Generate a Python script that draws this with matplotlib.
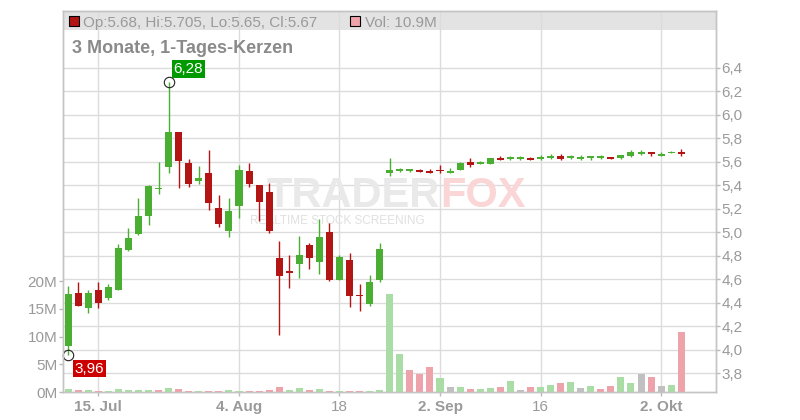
import matplotlib
matplotlib.use("Agg")
import matplotlib.pyplot as plt
from matplotlib.patches import Rectangle
from matplotlib.ticker import FuncFormatter
import numpy as np

plt.rcParams['font.family'] = ['Liberation Sans', 'DejaVu Sans']

# daily candles, 62 trading days (Jul 10 .. Oct 6)
opens = [4.035, 4.485, 4.358, 4.509, 4.443, 4.509, 4.849, 4.988, 5.141, 5.37,
         5.558, 5.853, 5.59, 5.434, 5.502, 5.207, 5.014, 5.227, 5.522, 5.403,
         5.343, 4.781, 4.67, 4.73, 4.892, 4.75, 5.003, 4.594, 4.764, 4.47,
         4.392, 4.597, 5.507, 5.522, 5.525, 5.53, 5.524, 5.533, 5.507, 5.533,
         5.601, 5.578, 5.581, 5.632, 5.621, 5.627, 5.632, 5.628, 5.64, 5.647,
         5.637, 5.624, 5.635, 5.642, 5.641, 5.635, 5.652, 5.675, 5.683, 5.65,
         5.678, 5.68]
highs = [4.543, 4.577, 4.509, 4.577, 4.56, 4.90, 5.037, 5.292, 5.403, 5.598,
         6.28, 5.853, 5.624, 5.564, 5.698, 5.317, 5.294, 5.572, 5.59, 5.403,
         5.42, 4.926, 4.807, 4.968, 4.911, 5.116, 5.076, 4.807, 4.824, 4.563,
         4.637, 4.909, 5.63, 5.55, 5.539, 5.539, 5.539, 5.573, 5.547, 5.598,
         5.63, 5.61, 5.635, 5.652, 5.65, 5.65, 5.641, 5.655, 5.664, 5.664,
         5.661, 5.655, 5.65, 5.66, 5.641, 5.658, 5.70, 5.70, 5.683, 5.683,
         5.69, 5.705]
lows = [3.96, 4.375, 4.311, 4.358, 4.424, 4.509, 4.841, 4.98, 5.065, 5.323,
        5.502, 5.375, 5.388, 5.414, 5.192, 5.048, 4.963, 5.124, 5.388, 5.099,
        4.997, 4.128, 4.529, 4.614, 4.688, 4.645, 4.585, 4.594, 4.367, 4.333,
        4.375, 4.58, 5.482, 5.51, 5.516, 5.513, 5.507, 5.502, 5.502, 5.53,
        5.558, 5.578, 5.578, 5.618, 5.615, 5.615, 5.615, 5.615, 5.621, 5.618,
        5.621, 5.615, 5.615, 5.627, 5.621, 5.627, 5.638, 5.655, 5.652, 5.649,
        5.672, 5.65]
closes = [4.475, 4.375, 4.483, 4.396, 4.532, 4.866, 4.951, 5.141, 5.394, 5.375,
          5.853, 5.609, 5.414, 5.462, 5.252, 5.073, 5.181, 5.53, 5.414, 5.26,
          5.014, 4.631, 4.66, 4.807, 4.784, 4.96, 4.594, 4.79, 4.46, 4.455,
          4.577, 4.858, 5.53, 5.539, 5.53, 5.516, 5.507, 5.52, 5.52, 5.59,
          5.573, 5.595, 5.632, 5.618, 5.641, 5.641, 5.621, 5.632, 5.645, 5.627,
          5.64, 5.64, 5.65, 5.645, 5.621, 5.658, 5.68, 5.68, 5.67, 5.67,
          5.68, 5.67]
vol_m = [0.54, 0.36, 0.36, 0.18, 0.18, 0.54, 0.36, 0.36, 0.36, 0.36,
         0.72, 0.54, 0.18, 0.18, 0.18, 0.18, 0.36, 0.18, 0.18, 0.18,
         0.36, 0.9, 0.36, 0.72, 0.36, 0.54, 0.18, 0.18, 0.18, 0.18,
         0.18, 0.36, 17.7, 6.8, 3.97, 3.25, 4.5, 2.53, 0.9, 0.9,
         0.54, 0.54, 0.72, 0.9, 1.99, 0.36, 0.9, 0.9, 1.26, 1.62,
         1.8, 0.72, 1.08, 0.54, 1.08, 2.7, 1.62, 3.25, 2.7, 1.08,
         1.26, 10.9]

tick_idx = [3, 17, 27, 37, 47, 59]
tick_lbl = ['15. Jul', '4. Aug', '18', '2. Sep', '16', '2. Okt']
tick_bold = [True, True, False, True, False, True]
price_ticks = [3.8, 4.0, 4.2, 4.4, 4.6, 4.8, 5.0, 5.2, 5.4, 5.6, 5.8, 6.0, 6.2, 6.4]
vol_ticks = [0, 5, 10, 15, 20]

GREEN = '#4aae32'
RED = '#b31414'
VGREEN = '#aadda5'
VRED = '#eea3aa'
VGRAY = '#c0c0c0'
GRID = '#dcdcdc'
TXT = '#9a9a9a'
EDGE = '#c4c4c4'

fig = plt.figure(figsize=(8, 4.2), dpi=100)
ax = fig.add_axes([63/800, 28/420, 653/800, 381/420])
axv = ax.twinx()

x = np.arange(len(opens))
o = np.array(opens); c = np.array(closes)
h = np.array(highs); l = np.array(lows)

ax.set_xlim(-0.51, 64.46)
ax.set_ylim(3.641, 6.883)
axv.set_ylim(0, 68.8)

# grid + header band
ax.set_axisbelow(True)
ax.set_yticks(price_ticks)
ax.set_xticks(tick_idx)
ax.grid(True, color=GRID, lw=1)
ax.add_patch(Rectangle((0, 1 - 19/381), 1, 19/381, transform=ax.transAxes,
                       fc='#e3e3e3', ec='none', zorder=0.2))

# watermark
ax.text(0.5773, 0.4856, 'TRADER', transform=ax.transAxes, ha='right', va='baseline',
        fontsize=30, fontweight='bold', color='#e9e9e9', zorder=0.8)
ax.text(0.5773, 0.4856, 'FOX', transform=ax.transAxes, ha='left', va='baseline',
        fontsize=30, fontweight='bold', color='#fad6d6', zorder=0.8)
ax.text(0.2864, 0.4400, 'REALTIME STOCK SCREENING', transform=ax.transAxes,
        ha='left', va='baseline', fontsize=8.5, color='#e0e0e0', zorder=0.8)

# candles
col = np.where(c >= o, GREEN, RED)
ax.vlines(x, l, h, colors=col, lw=1, zorder=2)
body = np.maximum(np.abs(c - o), 0.015)
bottom = np.minimum(o, c) - (body - np.abs(c - o)) / 2
ax.bar(x, body, bottom=bottom, width=0.7, color=col, lw=0, zorder=3)

# volume, coloured by change of close
dc = np.diff(np.round(c, 3), prepend=c[0] - 1)
vcol = [VGRAY if d == 0 else (VRED if d < 0 else VGREEN) for d in dc]
axv.bar(x, vol_m, width=0.7, color=vcol, lw=0, zorder=2)

# high / low markers
fmt = lambda v: f"{v:.2f}".replace('.', ',')
hi = int(np.argmax(h)); lo = int(np.argmin(l))
for i, val, off, fc in [(hi, h[hi], (5, 13), '#009a00'), (lo, l[lo], (6.5, -14), '#cc0000')]:
    ax.plot(i, val, 'o', mfc='none', mec='#222222', ms=7.5, mew=0.8, zorder=5, clip_on=False)
    ax.annotate(fmt(val), (i, val), xytext=off, textcoords='offset pixels',
                ha='left', va='center', color='white', fontsize=11, zorder=6,
                bbox=dict(boxstyle='square,pad=0.12', fc=fc, ec='none'))

# header
ax.plot([0.0161], [0.975], marker='s', ms=7, mfc=RED, mec='black', mew=0.8,
        transform=ax.transAxes, clip_on=False, zorder=5)
ax.text(0.0306, 0.9588, f"Op:{opens[-1]:g}, Hi:{highs[-1]:g}, Lo:{lows[-1]:g}, Cl:{closes[-1]:g}",
        transform=ax.transAxes, ha='left', va='baseline', fontsize=11, color=TXT, zorder=5)
ax.plot([0.4467], [0.975], marker='s', ms=7, mfc=VRED, mec='black', mew=0.8,
        transform=ax.transAxes, clip_on=False, zorder=5)
ax.text(0.4625, 0.9588, f"Vol: {vol_m[-1]:g}M", transform=ax.transAxes,
        ha='left', va='baseline', fontsize=11, color=TXT, zorder=5)
ax.text(0.0138, 0.889, '3 Monate, 1-Tages-Kerzen', transform=ax.transAxes,
        ha='left', va='baseline', fontsize=13, fontweight='bold', color='#8a8a8a', zorder=5)

# axes styling
ax.yaxis.tick_right()
axv.yaxis.tick_left()
ax.yaxis.set_major_formatter(FuncFormatter(lambda v, p: f"{v:.1f}".replace('.', ',')))
axv.set_yticks(vol_ticks)
axv.set_yticklabels([f"{v}M" for v in vol_ticks])
ax.tick_params(axis='y', length=3, width=1, color='#bbbbbb', labelcolor=TXT, labelsize=11, pad=1)
axv.tick_params(axis='y', length=3, width=1, color='#bbbbbb', labelcolor=TXT, labelsize=11, pad=1)
ax.tick_params(axis='x', length=3, width=1, color='#bbbbbb', labelcolor=TXT, labelsize=11, pad=3)
ax.set_xticklabels(tick_lbl)
for t, b in zip(ax.get_xticklabels(), tick_bold):
    t.set_fontweight('bold' if b else 'normal')
for a in (ax, axv):
    for s in a.spines.values():
        s.set_color(EDGE)
        s.set_linewidth(1)

fig.savefig('out.png', dpi=100)
